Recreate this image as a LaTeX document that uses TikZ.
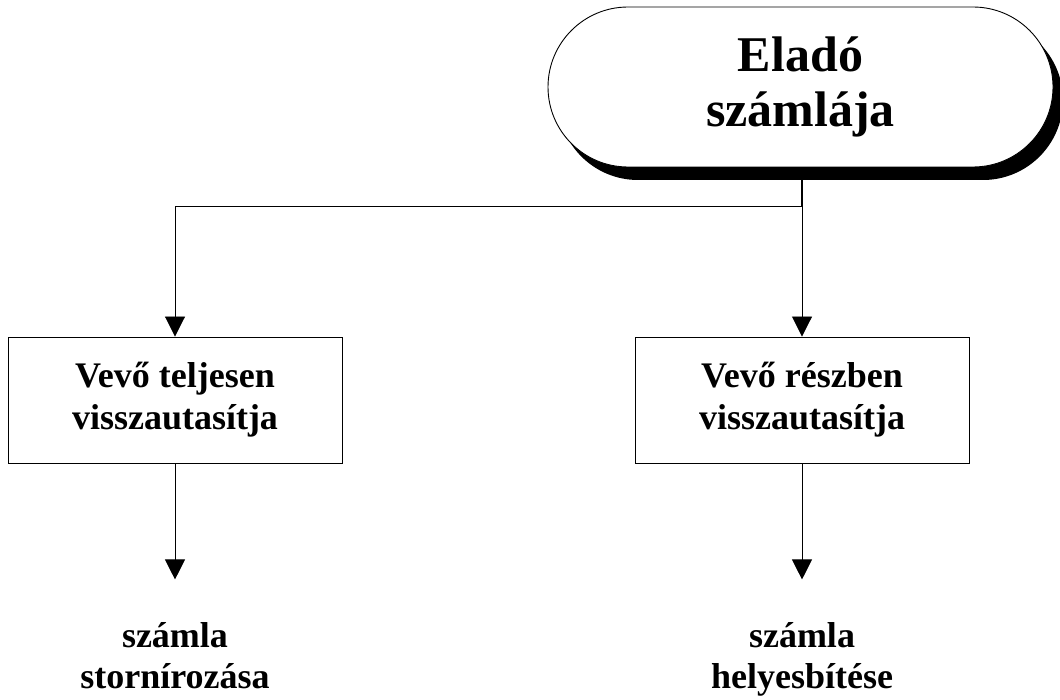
\documentclass[tikz,border=0pt]{standalone}
\usepackage{fontspec}
\setmainfont{Liberation Serif}
\usetikzlibrary{arrows.meta,shadows}
\begin{document}
\begin{tikzpicture}[x=1pt,y=-1pt,
  conn/.style={line width=0.9pt},
  arr/.style={conn,-{Triangle[length=20pt,width=20pt]}},
  startbox/.style={draw,line width=0.9pt,fill=white,rounded corners=80pt,
    minimum width=505pt,minimum height=160pt,inner sep=0pt,align=center,
    font=\fontsize{50}{55}\selectfont\bfseries,
    drop shadow={shadow xshift=10pt,shadow yshift=-13pt,fill=black,opacity=1}},
  procbox/.style={draw,line width=0.9pt,minimum width=334pt,minimum height=126pt,
    inner sep=0pt,align=center,font=\fontsize{36}{42}\selectfont\bfseries},
  result/.style={inner sep=0pt,align=center,anchor=north,font=\fontsize{36}{41}\selectfont\bfseries}]
\useasboundingbox (0,0) rectangle (1060,700);
\node[startbox] (top) at (800.5,87) {Eladó\\számlája};
\node[procbox] (left) at (175,400) {Vevő teljesen\\visszautasítja};
\node[procbox] (right) at (802,400) {Vevő részben\\visszautasítja};
\node[result] (lres) at (175,622) {számla\\stornírozása};
\node[result] (rres) at (802,622) {számla\\helyesbítése};
\coordinate (j) at (802,206);
\draw[line width=1.6pt] (top.south -| j) -- (j);
\draw[arr] (j) -| (left.north);
\draw[arr] (j) -- (right.north);
\draw[arr] (left.south) -- ++(0,116) coordinate (la);
\draw[arr] (right.south) -- ++(0,116) coordinate (ra);
\end{tikzpicture}
\end{document}
